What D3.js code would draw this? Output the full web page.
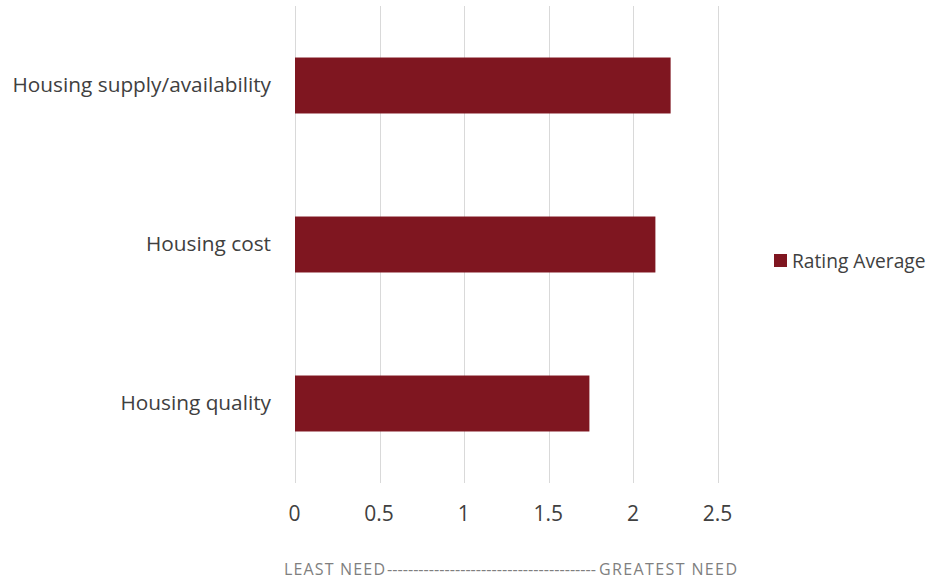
<!DOCTYPE html>
<html>
<head>
<meta charset="utf-8">
<script src="https://cdn.jsdelivr.net/npm/d3@7"></script>
<style>
	body { margin: 0; background: #fff; }
	text { font-family: "Open Sans", sans-serif; }
</style>
</head>
<body>
<div id="chart"></div>
<script>
// chart values, top category first
var categories = ["Housing supply/availability", "Housing cost", "Housing quality"];
var ratingAverage = [2.22, 2.13, 1.74];
var xTicks = [0, 0.5, 1, 1.5, 2, 2.5];
var seriesName = "Rating Average";
var scaleLabels = ["LEAST NEED", "GREATEST NEED"];

var width = 930, height = 582;
var barColor = "#7f1620";

var svg = d3.select("#chart").append("svg")
	.attr("width", width)
	.attr("height", height);

var x = d3.scaleLinear()
	.domain([0, 2.5])
	.range([295, 718]);

var y = d3.scaleBand()
	.domain(categories)
	.range([6, 483])
	.paddingInner(0.648)
	.paddingOuter(0.324);

// gridlines
svg.append("g")
	.selectAll("line")
	.data(xTicks)
	.enter()
		.append("line")
			.attr("x1", function(d) { return Math.round(x(d)) + 0.5; })
			.attr("x2", function(d) { return Math.round(x(d)) + 0.5; })
			.attr("y1", 6)
			.attr("y2", 483)
			.attr("stroke", "#d9d9d9")
			.attr("stroke-width", 1);

// bars
svg.append("g")
	.selectAll("rect")
	.data(ratingAverage)
	.enter()
		.append("rect")
			.attr("x", x(0))
			.attr("y", function(d, i) { return y(categories[i]); })
			.attr("width", function(d) { return x(d) - x(0); })
			.attr("height", y.bandwidth())
			.attr("fill", barColor);

// category labels
svg.append("g")
	.selectAll("text")
	.data(categories)
	.enter()
		.append("text")
			.attr("x", 271)
			.attr("y", function(d) { return y(d) + y.bandwidth() / 2; })
			.attr("dy", "0.32em")
			.attr("text-anchor", "end")
			.attr("font-size", "20.8px")
			.attr("fill", "#404040")
			.text(function(d) { return d; });

// x axis tick labels
var xAxis = d3.axisBottom(x)
	.tickValues(xTicks)
	.tickSize(0)
	.tickPadding(0)
	.tickFormat(function(d) { return String(d); });

var axisG = svg.append("g")
	.attr("transform", "translate(-1,506)")
	.call(xAxis);
axisG.select(".domain").remove();
axisG.selectAll("text")
	.attr("font-family", "'Open Sans', sans-serif")
	.attr("font-size", "21px")
	.attr("fill", "#404040");

// least/greatest need scale
var need = svg.append("g").attr("fill", "#7f7f7f").attr("font-size", "16px");
need.append("text")
	.attr("x", 284)
	.attr("y", 575)
	.attr("textLength", 101)
	.text(scaleLabels[0]);
need.append("text")
	.attr("x", 387)
	.attr("y", 575)
	.attr("textLength", 209)
	.attr("lengthAdjust", "spacingAndGlyphs")
	.text("----------------------------------------");
need.append("text")
	.attr("x", 599)
	.attr("y", 575)
	.attr("textLength", 138)
	.text(scaleLabels[1]);

// legend
var legend = svg.append("g").attr("transform", "translate(774,254)");
legend.append("rect")
	.attr("width", 13)
	.attr("height", 13)
	.attr("fill", barColor);
legend.append("text")
	.attr("x", 18)
	.attr("y", 7)
	.attr("dy", "0.35em")
	.attr("font-size", "19.2px")
	.attr("fill", "#404040")
	.text(seriesName);
</script>
</body>
</html>
